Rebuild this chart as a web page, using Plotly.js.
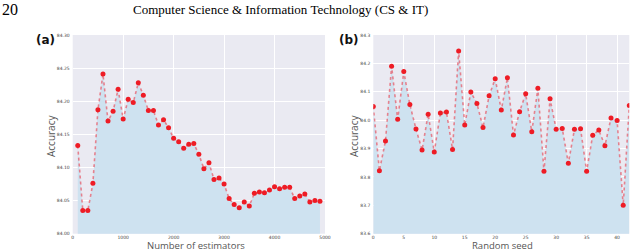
<!DOCTYPE html>
<html>
<head>
<meta charset="utf-8">
<script src="https://cdn.plot.ly/plotly-3.0.1.min.js"></script>
<style>html,body{margin:0;padding:0;background:#fff;}#chart{width:640px;height:251px;}</style>
</head>
<body>
<div id="chart"></div>
<script>
// Panel (a): accuracy vs number of estimators
const nEstimators = [100,200,300,400,500,600,700,800,900,1000,1100,1200,1300,1400,1500,1600,1700,1800,1900,2000,2100,2200,2300,2400,2500,2600,2700,2800,2900,3000,3100,3200,3300,3400,3500,3600,3700,3800,3900,4000,4100,4200,4300,4400,4500,4600,4700,4800,4900];
const accEstimators = [84.133,84.035,84.035,84.076,84.187,84.241,84.170,84.185,84.218,84.173,84.203,84.198,84.228,84.209,84.186,84.186,84.164,84.172,84.160,84.144,84.139,84.129,84.135,84.136,84.120,84.098,84.107,84.082,84.084,84.075,84.053,84.044,84.039,84.048,84.042,84.061,84.063,84.062,84.066,84.071,84.068,84.070,84.070,84.053,84.057,84.060,84.048,84.050,84.049];
const ticksA_x = [0,1000,2000,3000,4000,5000];
const ticksA_y = [84.00,84.05,84.10,84.15,84.20,84.25,84.30];

// Panel (b): accuracy vs random seed
const seeds = [0,1,2,3,4,5,6,7,8,9,10,11,12,13,14,15,16,17,18,19,20,21,22,23,24,25,26,27,28,29,30,31,32,33,34,35,36,37,38,39,40,41,42];
const accSeeds = [84.048,83.822,83.927,84.190,84.003,84.171,84.055,83.969,83.895,84.021,83.888,84.025,84.029,83.897,84.244,83.983,84.099,84.059,83.974,84.086,84.146,84.036,84.149,83.948,84.030,84.093,83.959,84.112,83.820,84.075,83.968,83.971,83.848,83.968,83.970,83.820,83.947,83.965,83.910,84.008,83.999,83.700,84.052];
const ticksB_x = [0,5,10,15,20,25,30,35,40];
const ticksB_y = [83.6,83.7,83.8,83.9,84.0,84.1,84.2,84.3];

const W = 640, H = 251;
const px = v => v / W, py = v => 1 - v / H;

const lineStyle = {color: 'rgba(235,45,60,0.55)', width: 1.6, dash: 'dot'};
const markerStyle = {color: '#ee1c25', size: 5};
const fillCol = 'rgb(206,226,240)';

const traces = [
  {x: nEstimators, y: accEstimators, type: 'scatter', mode: 'lines+markers',
   fill: 'tozeroy', fillcolor: fillCol, line: lineStyle, marker: markerStyle,
   xaxis: 'x', yaxis: 'y', hoverinfo: 'skip'},
  {x: seeds, y: accSeeds, type: 'scatter', mode: 'lines+markers',
   fill: 'tozeroy', fillcolor: fillCol, line: lineStyle, marker: markerStyle,
   xaxis: 'x2', yaxis: 'y2', hoverinfo: 'skip'}
];

const tickFont = {family: 'DejaVu Sans', size: 4.5, color: '#444'};
const axBase = {showline: false, zeroline: false, gridcolor: '#ffffff', gridwidth: 1,
  ticks: '', tickfont: tickFont, fixedrange: true, layer: 'below traces'};

const titleFont = {family: 'Open Sans', size: 10, color: '#555'};
const xTitleFont = {family: 'Open Sans', size: 9.5, color: '#555'};

const layout = {
  width: W, height: H,
  margin: {l: 0, r: 0, t: 0, b: 0},
  paper_bgcolor: '#ffffff',
  plot_bgcolor: '#eaeaf2',
  showlegend: false,
  xaxis: Object.assign({}, axBase, {domain: [px(72.7), px(325)], range: [0, 5000],
    tickvals: ticksA_x, ticktext: ticksA_x.map(String), anchor: 'y', ticklabelstandoff: 0}),
  yaxis: Object.assign({}, axBase, {domain: [py(233.7), py(35)], range: [84.0, 84.3],
    tickvals: ticksA_y, ticktext: ticksA_y.map(v => v.toFixed(2)), anchor: 'x', ticklabelstandoff: 2}),
  xaxis2: Object.assign({}, axBase, {domain: [px(373.3), px(629.3)], range: [0, 42],
    tickvals: ticksB_x, ticktext: ticksB_x.map(String), anchor: 'y2', ticklabelstandoff: 0}),
  yaxis2: Object.assign({}, axBase, {domain: [py(233.7), py(35)], range: [83.6, 84.3],
    tickvals: ticksB_y, ticktext: ticksB_y.map(v => v.toFixed(1)), anchor: 'x2', ticklabelstandoff: 2}),
  annotations: [
    {text: '20', x: px(0), y: py(10), xref: 'paper', yref: 'paper', xanchor: 'left', yanchor: 'middle',
     showarrow: false, font: {family: 'Liberation Serif', size: 16, color: '#000'}},
    {text: 'Computer Science &amp; Information Technology (CS &amp; IT)', x: px(280.5), y: py(10), xref: 'paper', yref: 'paper',
     xanchor: 'center', yanchor: 'middle', showarrow: false, font: {family: 'Liberation Serif', size: 13, color: '#000'}},
    {text: '<b>(a)</b>', x: px(45), y: py(40), xref: 'paper', yref: 'paper', xanchor: 'center', yanchor: 'middle',
     showarrow: false, font: {family: 'DejaVu Sans', size: 12, color: '#111'}},
    {text: '<b>(b)</b>', x: px(349), y: py(40), xref: 'paper', yref: 'paper', xanchor: 'center', yanchor: 'middle',
     showarrow: false, font: {family: 'DejaVu Sans', size: 12, color: '#111'}},
    {text: 'Accuracy', x: px(51), y: py(136), xref: 'paper', yref: 'paper', xanchor: 'center', yanchor: 'middle',
     textangle: -90, showarrow: false, font: titleFont},
    {text: 'Accuracy', x: px(354), y: py(136), xref: 'paper', yref: 'paper', xanchor: 'center', yanchor: 'middle',
     textangle: -90, showarrow: false, font: titleFont},
    {text: 'Number of estimators', x: px(196), y: py(245.8), xref: 'paper', yref: 'paper', xanchor: 'center', yanchor: 'middle',
     borderpad: 0, showarrow: false, font: xTitleFont},
    {text: 'Random seed', x: px(502), y: py(245.8), xref: 'paper', yref: 'paper', xanchor: 'center', yanchor: 'middle',
     borderpad: 0, showarrow: false, font: xTitleFont}
  ]
};

Plotly.newPlot('chart', traces, layout, {staticPlot: true, displayModeBar: false});
</script>
</body>
</html>
